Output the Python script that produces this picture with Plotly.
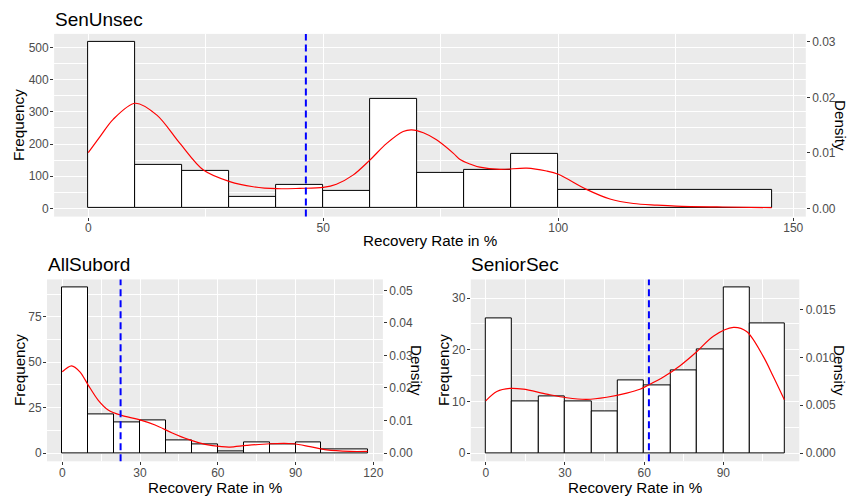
import plotly.graph_objects as go

# ---------------- data ----------------
# SenUnsec
sen_edges = [0, 10, 20, 30, 40, 50, 60, 70, 80, 90, 100, 145.4]
sen_counts = [517, 136, 117, 36, 72, 54, 339, 111, 119, 168, 57]
sen_mean = 46.3
sen_kde_x = [0, 2.5, 5.3, 10, 14.6, 19.5, 24.5, 30.1, 35.1, 40.1, 45, 50, 52.8, 56.4, 59.9,
             63.5, 67.0, 68.8, 71.3, 74.1, 77.7, 79.1, 81.2, 83.3, 87.6, 93.3, 97.5, 100,
             106, 111, 116, 121, 125, 135, 145.4]
sen_kde_y = [173, 223, 277, 327, 290, 202, 119, 83, 67, 61, 62, 65, 75, 104, 150,
             202, 239, 244, 235, 213, 171, 152, 138, 128, 121, 125, 116, 106,
             59, 29, 15, 10, 7, 4, 2]

# AllSubord
sub_edges = [0, 10, 20, 30, 40, 50, 60, 70, 80, 90, 100, 117.8]
sub_counts = [91, 21, 17, 18, 7, 5, 1, 6, 5, 6, 2]
sub_mean = 22.5
sub_kde_x = [0, 3.6, 6.8, 10, 13.9, 17.7, 22.9, 29.3, 35.8, 42.2, 48.6, 55.1, 61.5, 64.7,
             71.1, 80.1, 89.1, 95.6, 102, 111, 117.8]
sub_kde_y = [44.7, 48, 44.7, 37.4, 29, 23.7, 20.7, 18.5, 15.4, 11.2, 7.5, 4.8, 3.5, 3.3,
             4.2, 5.1, 5.1, 3.5, 1.7, 0.9, 0.9]

# SeniorSec
sec_edges = [0, 10, 20, 30, 40, 50, 60, 70, 80, 90, 100, 113.1]
sec_counts = [26, 10, 11, 10, 8, 14, 13, 16, 20, 32, 25]
sec_mean = 61.8
sec_kde_x = [0, 4.2, 9.2, 14.2, 23.1, 30.7, 38.2, 45.8, 53.4, 58.4, 61, 67.3, 73.6, 79.9,
             86.2, 93.8, 98.8, 105.1, 108.9, 113.1]
sec_kde_y = [10.1, 11.9, 12.5, 12.35, 11.4, 10.7, 10.4, 10.8, 11.6, 12.35, 13.0, 14.7, 16.9,
             19.6, 22.6, 24.3, 23.5, 18.7, 14.8, 10.3]

titles = ["SenUnsec", "AllSubord", "SeniorSec"]

# ---------------- layout geometry (pixels) ----------------
W, H = 849, 498
FONT = "Liberation Sans, Arial, Helvetica, sans-serif"
TICK_FONT = dict(family=FONT, size=12, color="#4D4D4D")
AXT = 15.2
TT = 19


def px_x(p):
    return p / W


def px_y(p):
    return 1 - p / H


panels = [
    dict(edges=sen_edges, counts=sen_counts, mean=sen_mean, kx=sen_kde_x, ky=sen_kde_y,
         xa="x", ya="y", ya2="y2", xdom=(54.1, 805.8), ydom=(216.6, 33.9),
         xdt=50, ydt=100, ddt=0.01, dfmt=".2f", title=titles[0],
         title_pos=(53, 19), xt_pos=(430, 240), ft_pos=(18, 125), dt_pos=(841, 125)),
    dict(edges=sub_edges, counts=sub_counts, mean=sub_mean, kx=sub_kde_x, ky=sub_kde_y,
         xa="x2", ya="y3", ya2="y4", xdom=(47.0, 382.9), ydom=(461.3, 279.4),
         xdt=30, ydt=25, ddt=0.01, dfmt=".2f", title=titles[1],
         title_pos=(46, 264), xt_pos=(215, 487.5), ft_pos=(19, 370), dt_pos=(417, 370)),
    dict(edges=sec_edges, counts=sec_counts, mean=sec_mean, kx=sec_kde_x, ky=sec_kde_y,
         xa="x3", ya="y5", ya2="y6", xdom=(470.8, 799.3), ydom=(461.3, 279.4),
         xdt=30, ydt=10, ddt=0.005, dfmt=".3f", title=titles[2],
         title_pos=(469, 264), xt_pos=(635, 487.5), ft_pos=(443, 370), dt_pos=(840, 370)),
]

fig = go.Figure()
annotations = []
shapes = []
layout = {}


def axname(a):
    return "xaxis" + a[1:] if a.startswith("x") else "yaxis" + a[1:]


for p in panels:
    edges = p["edges"]
    counts = p["counts"]
    centers = [(edges[i] + edges[i + 1]) / 2 for i in range(len(counts))]
    widths = [edges[i + 1] - edges[i] for i in range(len(counts))]
    n_total = sum(counts)
    scale = n_total * 10.0
    xmax = edges[-1]
    xr = [-0.05 * xmax, 1.05 * xmax]
    ymax = max(counts)
    yr = [-0.05 * ymax, 1.05 * ymax]

    fig.add_trace(go.Bar(x=centers, y=counts, width=widths, xaxis=p["xa"], yaxis=p["ya"],
                         marker=dict(color="white", line=dict(color="black", width=1)),
                         showlegend=False, hoverinfo="skip"))
    fig.add_trace(go.Scatter(x=p["kx"], y=p["ky"], mode="lines", xaxis=p["xa"], yaxis=p["ya"],
                             line=dict(color="#FF0000", width=1.2, shape="spline", smoothing=0.9),
                             showlegend=False, hoverinfo="skip"))
    # invisible trace to activate secondary axis
    fig.add_trace(go.Scatter(x=[xr[0]], y=[0], mode="markers", xaxis=p["xa"], yaxis=p["ya2"],
                             marker=dict(opacity=0), showlegend=False, hoverinfo="skip"))

    xd = [px_x(p["xdom"][0]), px_x(p["xdom"][1])]
    yd = [px_y(p["ydom"][0]), px_y(p["ydom"][1])]

    common = dict(ticks="outside", ticklen=3, tickcolor="#333333", tickwidth=1,
                  tickfont=TICK_FONT, showline=False, automargin=False, zeroline=False)

    layout[axname(p["xa"])] = dict(
        domain=xd, range=xr, anchor=p["ya"], tickmode="linear", tick0=0, dtick=p["xdt"],
        showgrid=True, gridcolor="white", gridwidth=1.1, ticklabelstandoff=-3,
        minor=dict(showgrid=True, gridcolor="white", gridwidth=0.5, dtick=p["xdt"] / 2, tick0=0),
        **common,
    )
    layout[axname(p["ya"])] = dict(
        domain=yd, range=yr, anchor=p["xa"], tickmode="linear", tick0=0, dtick=p["ydt"],
        showgrid=True, gridcolor="white", gridwidth=1.1, ticklabelstandoff=-1,
        minor=dict(showgrid=True, gridcolor="white", gridwidth=0.5, dtick=p["ydt"] / 2, tick0=0),
        **common,
    )
    layout[axname(p["ya2"])] = dict(
        overlaying=p["ya"], side="right", anchor=p["xa"],
        range=[yr[0] / scale, yr[1] / scale], tickmode="linear", tick0=0, dtick=p["ddt"],
        tickformat=p["dfmt"], showgrid=False,
        **common,
    )

    shapes.append(dict(type="line", xref=p["xa"], yref=p["ya"] + " domain",
                       x0=p["mean"], x1=p["mean"], y0=0, y1=1,
                       line=dict(color="#0000FF", width=2, dash="7px,4px")))

    annotations.append(dict(text=p["title"], x=px_x(p["title_pos"][0]), y=px_y(p["title_pos"][1]),
                            xref="paper", yref="paper", xanchor="left", yanchor="middle",
                            showarrow=False, font=dict(family=FONT, size=TT, color="black")))
    annotations.append(dict(text="Recovery Rate in %", x=px_x(p["xt_pos"][0]), y=px_y(p["xt_pos"][1]),
                            xref="paper", yref="paper", xanchor="center", yanchor="middle",
                            showarrow=False, font=dict(family=FONT, size=AXT, color="black")))
    annotations.append(dict(text="Frequency", x=px_x(p["ft_pos"][0]), y=px_y(p["ft_pos"][1]),
                            xref="paper", yref="paper", xanchor="center", yanchor="middle",
                            textangle=-90, showarrow=False,
                            font=dict(family=FONT, size=AXT, color="black")))
    annotations.append(dict(text="Density", x=px_x(p["dt_pos"][0]), y=px_y(p["dt_pos"][1]),
                            xref="paper", yref="paper", xanchor="center", yanchor="middle",
                            textangle=90, showarrow=False,
                            font=dict(family=FONT, size=AXT, color="black")))

fig.update_layout(
    width=W, height=H, autosize=False,
    margin=dict(l=0, r=0, t=0, b=0, autoexpand=False),
    paper_bgcolor="white", plot_bgcolor="#EBEBEB",
    bargap=0, barmode="overlay", showlegend=False,
    font=dict(family=FONT),
    annotations=annotations, shapes=shapes,
    **layout,
)

fig.write_html(
    "out.html",
    config={"displayModeBar": False},
    post_script="document.body.style.margin='0';document.body.style.padding='0';"
                "document.body.style.overflow='hidden';",
)
